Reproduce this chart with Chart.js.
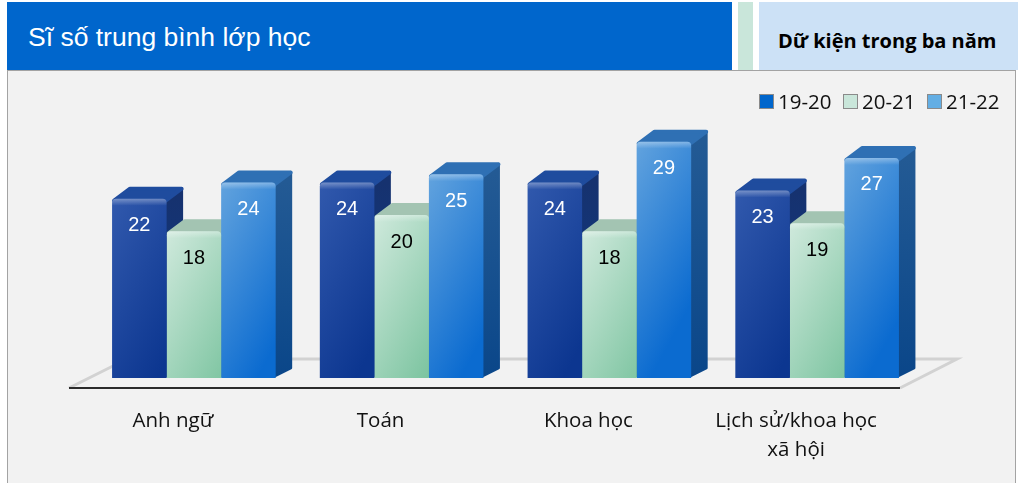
<!DOCTYPE html>
<html lang="vi">
<head>
<meta charset="utf-8">
<title>Sĩ số trung bình lớp học</title>
<script src="https://cdn.jsdelivr.net/npm/chart.js@4"></script>
<style>
    html, body { margin: 0; padding: 0; background: #fff; overflow: hidden; }
    #page { position: relative; width: 1018px; height: 483px; }
    .head { position: absolute; top: 2px; height: 68px; }
    #headMain { left: 7px; width: 725px; background: #0066cc; color: #fff; font: 26.5px "Liberation Sans", sans-serif; line-height: 70px; text-indent: 21px; }
    #headGap { left: 738px; width: 15px; background: #c9e6da; }
    #headSide { left: 759px; width: 259px; background: #cce1f6; color: #000; font: bold 20px "Open Sans", sans-serif; line-height: 78px; text-indent: 19px; white-space: nowrap; overflow: hidden; }
    #panel { position: absolute; left: 7px; top: 70px; width: 1009px; height: 413px; background: #f2f2f2; border: 1px solid #a3a3a3; border-bottom: none; box-sizing: border-box; }
    #chartCanvas { position: absolute; left: -1px; top: 0; }
    #legend { position: absolute; top: 20px; left: 751px; display: flex; font: 20.5px "Open Sans", sans-serif; line-height: 20px; color: #111; }
    #legend div { display: flex; align-items: center; width: 84px; }
    #legend i { display: block; width: 15px; height: 15px; margin-right: 4px; border: 1px solid #8a8a8a; box-sizing: border-box; }
</style>
</head>
<body>
<div id="page">
    <div class="head" id="headMain">Sĩ số trung bình lớp học</div>
    <div class="head" id="headGap"></div>
    <div class="head" id="headSide">Dữ kiện trong ba năm</div>
    <div id="panel">
        <canvas id="chartCanvas" width="1009" height="412"></canvas>
        <div id="legend"></div>
    </div>
</div>
<script>
const categories = ["Anh ngữ", "Toán", "Khoa học", ["Lịch sử/khoa học", "xã hội"]];
const years = ["19-20", "20-21", "21-22"];
const values1920 = [22, 24, 24, 23];
const values2021 = [18, 20, 18, 19];
const values2122 = [24, 25, 29, 27];

const legendColors = ["#0066cc", "#c9e6da", "#63aee4"];
const labelColors = ["#fff", "#000", "#fff"];
// front (light, dark), top face, side face (top, bottom)
const faces = [
    { light: "#3159ad", dark: "#0c3690", top: "#1f4c9e", sideA: "#16326f", sideB: "#0d3a88" },
    { light: "#cfe9dc", dark: "#7cc4a0", top: "#a3c4b2", sideA: "#7f9f90", sideB: "#5f9a80" },
    { light: "#62a3de", dark: "#0b6bd0", top: "#2f70b4", sideA: "#235a94", sideB: "#0a4689" }
];
const depthX = 17;
const depthY = -12;

const bars3d = {
    id: "bars3d",
    beforeDatasetsDraw(chart) {
        const { ctx, scales } = chart;
        const base = scales.y.getPixelForValue(0);
        const left = scales.x.left - 21;
        const right = scales.x.right - 21;

        // floor
        ctx.save();
        ctx.strokeStyle = "#d2d2d2";
        ctx.lineWidth = 3;
        ctx.beginPath();
        ctx.moveTo(left, base + 10);
        ctx.lineTo(left + 44, base - 12);
        ctx.moveTo(right, base + 10);
        ctx.lineTo(right + 57, base - 19);
        ctx.lineTo(left + 220, base - 19);
        ctx.stroke();
        ctx.strokeStyle = "#2b2b2b";
        ctx.lineWidth = 2;
        ctx.beginPath();
        ctx.moveTo(left, base + 10);
        ctx.lineTo(right, base + 10);
        ctx.stroke();

        // side and top faces, the library draws the fronts over them
        chart.data.datasets.forEach((dataset, d) => {
            const face = faces[d];
            chart.getDatasetMeta(d).data.forEach(bar => {
                const x0 = bar.x - bar.width / 2;
                const x1 = bar.x + bar.width / 2;

                const side = ctx.createLinearGradient(0, bar.y, 0, base);
                side.addColorStop(0, face.sideA);
                side.addColorStop(1, face.sideB);
                ctx.fillStyle = side;
                ctx.strokeStyle = side;
                ctx.lineWidth = 3;
                ctx.lineJoin = "round";
                ctx.beginPath();
                ctx.moveTo(x1 - 1, bar.y + 2);
                ctx.lineTo(x1 + depthX - 2, bar.y + depthY + 2);
                ctx.lineTo(x1 + depthX - 2, base + depthY + 2);
                ctx.lineTo(x1 - 1, base - 2);
                ctx.closePath();
                ctx.fill();
                ctx.stroke();

                ctx.fillStyle = face.top;
                ctx.strokeStyle = face.top;
                ctx.lineWidth = 4;
                ctx.beginPath();
                ctx.moveTo(x0 + 2, bar.y + 2);
                ctx.lineTo(x0 + depthX + 1, bar.y + depthY + 2);
                ctx.lineTo(x1 + depthX - 2, bar.y + depthY + 2);
                ctx.lineTo(x1 - 1, bar.y + 2);
                ctx.closePath();
                ctx.fill();
                ctx.stroke();

                const front = ctx.createLinearGradient(x0, bar.y, x0 + 110, bar.y + 60);
                front.addColorStop(0, face.light);
                front.addColorStop(1, face.dark);
                bar.options = { ...bar.options, backgroundColor: front };
            });
        });
        ctx.restore();
    },
    afterDatasetsDraw(chart) {
        const { ctx } = chart;
        ctx.save();
        ctx.textAlign = "center";
        ctx.textBaseline = "middle";
        ctx.font = '20px "Liberation Sans", sans-serif';
        chart.data.datasets.forEach((dataset, d) => {
            chart.getDatasetMeta(d).data.forEach((bar, i) => {
                const x0 = bar.x - bar.width / 2;
                const shine = ctx.createLinearGradient(0, bar.y, 0, bar.y + 7);
                shine.addColorStop(0, "rgba(255,255,255,0.35)");
                shine.addColorStop(1, "rgba(255,255,255,0)");
                ctx.fillStyle = shine;
                ctx.beginPath();
                ctx.roundRect(x0, bar.y, bar.width, 7, [4, 4, 0, 0]);
                ctx.fill();

                ctx.fillStyle = labelColors[d];
                ctx.fillText(dataset.data[i], bar.x, bar.y + 27);
            });
        });
        ctx.restore();
    }
};

const chart = new Chart(document.getElementById("chartCanvas").getContext("2d"), {
    type: "bar",
    data: {
        labels: categories,
        datasets: [
            { label: years[0], data: values1920, backgroundColor: legendColors[0] },
            { label: years[1], data: values2021, backgroundColor: legendColors[1] },
            { label: years[2], data: values2122, backgroundColor: legendColors[2] }
        ]
    },
    options: {
        responsive: false,
        animation: false,
        layout: { padding: { left: 83, right: 95, top: 62.5, bottom: 0 } },
        datasets: {
            bar: {
                categoryPercentage: 0.7875,
                barPercentage: 1,
                borderRadius: { topLeft: 4, topRight: 4, bottomLeft: 0, bottomRight: 0 },
                borderSkipped: "bottom"
            }
        },
        scales: {
            x: {
                grid: { display: false },
                border: { display: false },
                afterFit: axis => { axis.height = 105; },
                ticks: {
                    color: "#111",
                    padding: 21,
                    labelOffset: -21,
                    maxRotation: 0,
                    font: { family: '"Open Sans", sans-serif', size: 20.5, lineHeight: 1.41 }
                }
            },
            y: { display: false, min: 0, max: 30 }
        },
        plugins: {
            legend: { display: false },
            tooltip: { enabled: false }
        }
    },
    plugins: [bars3d]
});

const legendBox = document.getElementById("legend");
chart.data.datasets.forEach(dataset => {
    const item = document.createElement("div");
    const box = document.createElement("i");
    box.style.background = dataset.backgroundColor;
    item.appendChild(box);
    item.appendChild(document.createTextNode(dataset.label));
    legendBox.appendChild(item);
});
</script>
</body>
</html>
